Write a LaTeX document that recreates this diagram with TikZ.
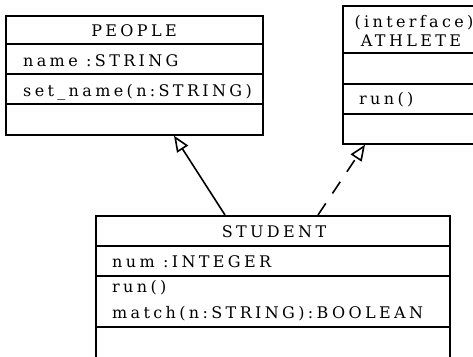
\documentclass[tikz,border=0pt]{standalone}
\usepackage{fontspec}
\newfontfamily\umlfont{DejaVu Serif}[LetterSpace=21]
\usetikzlibrary{arrows.meta,calc}
\begin{document}
\begin{tikzpicture}[x=1pt,y=-1pt,
  classbox/.style={draw, line width=1.7pt, rectangle, inner sep=0pt, anchor=north west},
  sep/.style={line width=1.7pt},
  umltext/.style={inner sep=0pt, anchor=base west, font=\fontsize{16}{19}\umlfont},
  umltitle/.style={inner sep=0pt, anchor=base, font=\fontsize{16}{19}\umlfont},
  inherit/.style={line width=1.6pt, -{Triangle[open, length=16pt, width=13pt, fill=white, line width=1.6pt]}},
  realize/.style={inherit, dash pattern=on 14pt off 12pt}]
\useasboundingbox (0,0) rectangle (473,356);
\clip (0,0) rectangle (473,356);

% class PEOPLE
\node[classbox, minimum width=257pt, minimum height=119pt] (people) at (5,15) {};
\draw[sep] (5,44) -- (262,44) (5,74) -- (262,74) (5,104) -- (262,104);
\node[umltitle] (ptitle) at (134,36) {PEOPLE};
\node[umltext] (pattr) at (23,66) {name :STRING};
\node[umltext] (pop) at (23,96) {set\_name(n:STRING)};

% interface ATHLETE
\node[classbox, minimum width=143pt, minimum height=138pt] (athlete) at (342,5) {};
\draw[sep] (342,53) -- (485,53) (342,84) -- (485,84) (342,114) -- (485,114);
\node[umltitle] (atag) at (414,27) {(interface)};
\node[umltitle] (atitle) at (411,46) {ATHLETE};
\node[umltext] (aop) at (359,104) {run()};

% class STUDENT
\node[classbox, minimum width=354pt, minimum height=160pt] (student) at (95,215) {};
\draw[sep] (95,246) -- (449,246) (95,276) -- (449,276) (95,327) -- (449,327);
\node[umltitle] (stitle) at (274,237) {STUDENT};
\node[umltext] (sattr) at (112,267) {num :INTEGER};
\node[umltext] (sop1) at (112,292) {run()};
\node[umltext] (sop2) at (112,318) {match(n:STRING):BOOLEAN};

% generalization and realization
\coordinate (sgen) at ($(student.north west)+(130,0)$);
\coordinate (pgen) at ($(people.south west)+(169,0)$);
\coordinate (sreal) at ($(student.north west)+(223,0)$);
\coordinate (areal) at ($(athlete.south west)+(23,0)$);
\draw[inherit] (sgen) -- (pgen);
\draw[realize] (sreal) -- (areal);
\end{tikzpicture}
\end{document}
